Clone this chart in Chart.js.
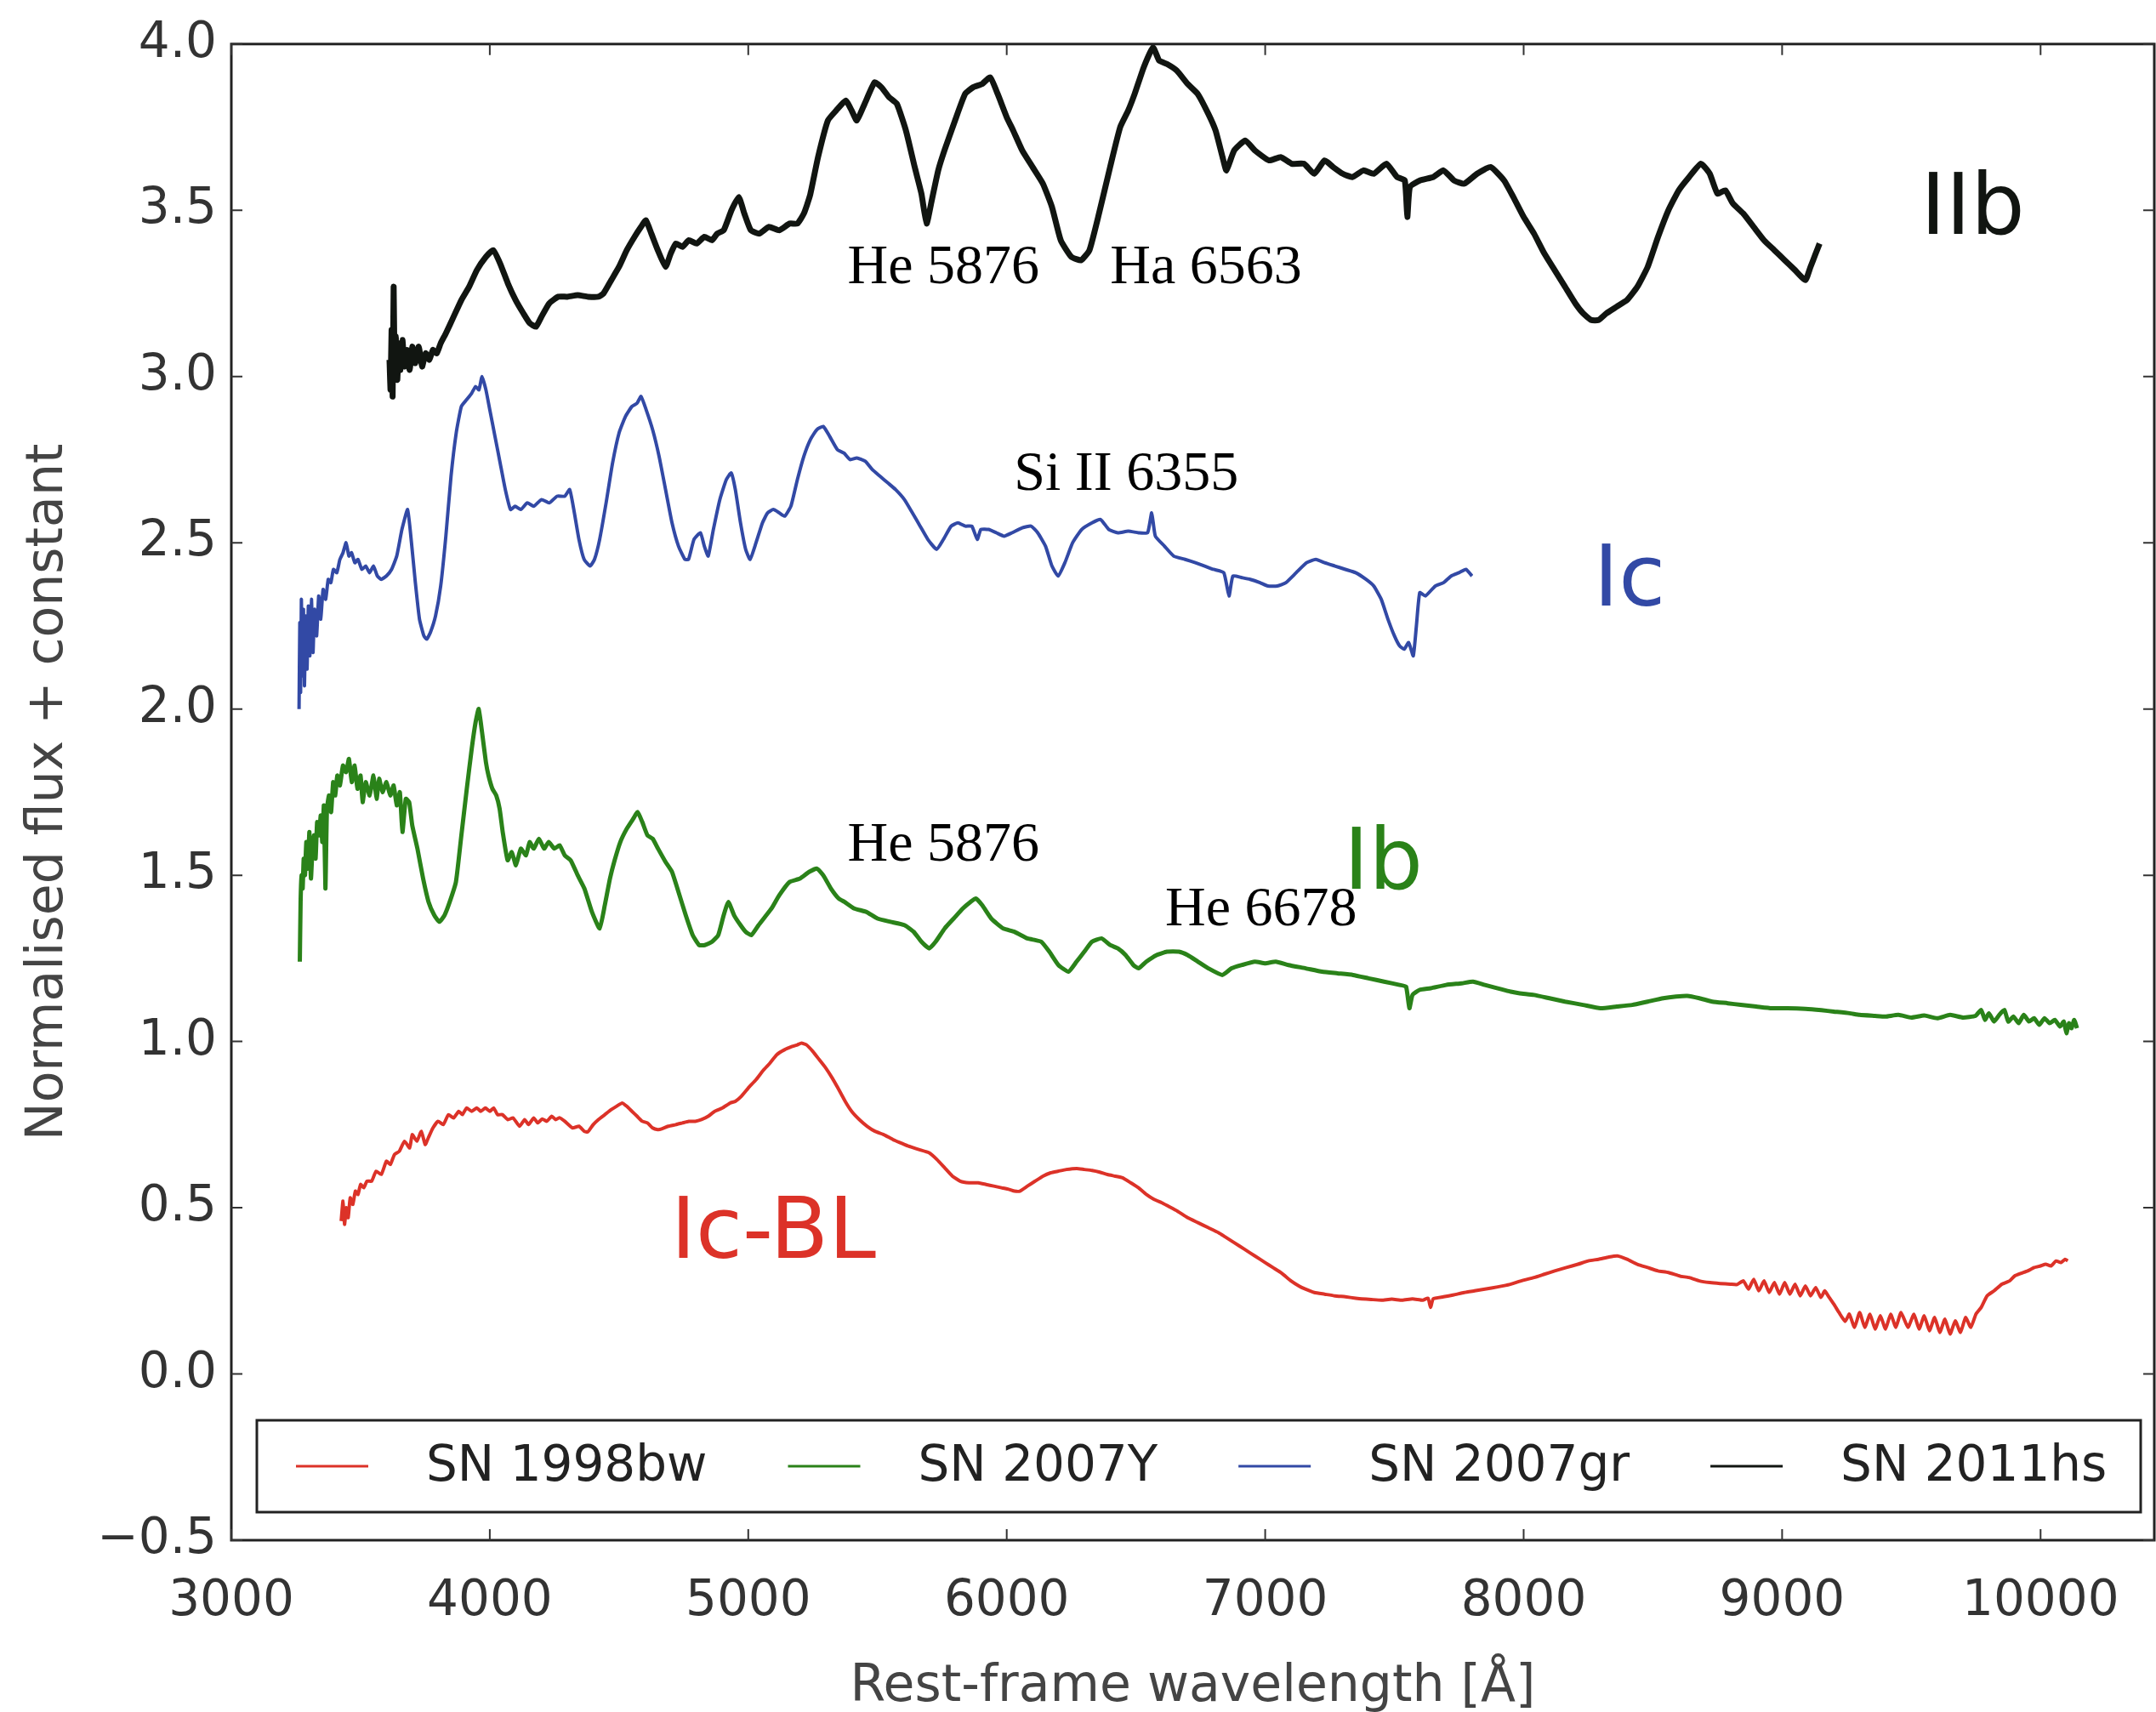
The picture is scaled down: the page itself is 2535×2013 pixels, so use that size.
<!DOCTYPE html>
<html>
<head>
<meta charset="utf-8">
<script src="https://cdn.jsdelivr.net/npm/chart.js@4.4.1/dist/chart.umd.min.js"></script>
<style>
  html, body { margin: 0; padding: 0; background: #fff; }
  #wrap { width: 2535px; height: 2013px; position: relative; }
</style>
</head>
<body>
<div id="wrap"><canvas id="myChart"></canvas></div>
<script>
// SN 1998bw (Ic-BL)
const wl1998bw = [3425,3432,3438,3445,3452,3460,3470,3480,3490,3500,3512,3525,3543,3560,3580,3600,3615,3631,3650,3670,3690,3700,3718,3735,3750,3762,3780,3800,3820,3840,3860,3880,3894,3910,3930,3950,3965,3983,4000,4015,4030,4049,4070,4090,4115,4135,4150,4170,4185,4203,4220,4240,4255,4269,4290,4320,4345,4365,4379,4400,4420,4445,4470,4490,4512,4530,4550,4570,4590,4610,4630,4650,4665,4690,4720,4745,4770,4795,4819,4845,4870,4900,4930,4950,4973,5000,5030,5060,5084,5110,5140,5170,5190,5206,5225,5250,5275,5300,5325,5347,5375,5400,5430,5460,5490,5524,5560,5590,5620,5660,5700,5730,5760,5790,5820,5854,5890,5920,5950,5980,6010,6030,6051,6080,6110,6140,6170,6200,6230,6271,6300,6330,6360,6390,6420,6448,6480,6510,6540,6570,6600,6624,6660,6700,6740,6780,6820,6844,6880,6920,6960,7000,7030,7064,7100,7130,7153,7190,7230,7270,7310,7350,7373,7410,7450,7490,7530,7570,7610,7630,7640,7650,7690,7730,7770,7810,7850,7900,7945,7990,8040,8080,8120,8165,8210,8250,8290,8330,8363,8400,8440,8480,8520,8560,8606,8640,8680,8720,8760,8800,8826,8850,8870,8890,8910,8930,8950,8970,8990,9010,9030,9050,9070,9090,9110,9130,9150,9165,9178,9200,9220,9244,9260,9280,9300,9320,9340,9360,9380,9400,9420,9440,9460,9487,9510,9530,9550,9570,9590,9610,9630,9650,9670,9690,9710,9730,9750,9770,9793,9820,9850,9880,9900,9925,9950,9975,10000,10020,10040,10060,10079,10095,10105];
const fl1998bw = [0.46,0.52,0.45,0.50,0.47,0.53,0.51,0.55,0.54,0.57,0.56,0.58,0.58,0.61,0.60,0.64,0.63,0.66,0.67,0.70,0.68,0.72,0.70,0.73,0.69,0.71,0.74,0.76,0.75,0.78,0.77,0.79,0.78,0.80,0.79,0.80,0.79,0.80,0.79,0.80,0.78,0.78,0.765,0.77,0.745,0.765,0.75,0.77,0.755,0.767,0.76,0.775,0.765,0.771,0.76,0.74,0.745,0.73,0.728,0.75,0.765,0.78,0.795,0.805,0.815,0.805,0.79,0.775,0.76,0.755,0.74,0.735,0.737,0.745,0.75,0.755,0.76,0.76,0.765,0.775,0.79,0.80,0.815,0.82,0.835,0.86,0.885,0.915,0.935,0.96,0.975,0.985,0.99,0.995,0.99,0.97,0.945,0.92,0.89,0.86,0.82,0.79,0.765,0.745,0.73,0.72,0.705,0.695,0.685,0.675,0.665,0.645,0.62,0.595,0.58,0.575,0.575,0.57,0.565,0.56,0.555,0.55,0.55,0.565,0.58,0.595,0.605,0.61,0.615,0.618,0.615,0.612,0.607,0.60,0.595,0.59,0.575,0.56,0.54,0.525,0.515,0.505,0.49,0.47,0.455,0.44,0.425,0.413,0.395,0.375,0.355,0.335,0.32,0.303,0.28,0.265,0.256,0.245,0.24,0.235,0.232,0.228,0.226,0.224,0.222,0.225,0.222,0.226,0.222,0.228,0.20,0.226,0.232,0.238,0.245,0.25,0.255,0.262,0.269,0.28,0.29,0.30,0.31,0.32,0.33,0.34,0.345,0.352,0.355,0.345,0.33,0.32,0.31,0.305,0.294,0.29,0.28,0.275,0.272,0.27,0.269,0.28,0.255,0.285,0.25,0.28,0.245,0.275,0.24,0.275,0.24,0.27,0.235,0.265,0.235,0.26,0.23,0.25,0.235,0.21,0.185,0.158,0.18,0.14,0.185,0.14,0.18,0.135,0.175,0.135,0.18,0.14,0.185,0.14,0.18,0.135,0.175,0.13,0.17,0.125,0.165,0.12,0.16,0.125,0.17,0.14,0.18,0.20,0.235,0.25,0.27,0.28,0.295,0.303,0.31,0.32,0.325,0.33,0.325,0.34,0.335,0.345,0.34];

// SN 2007Y (Ib)
const wl2007Y = [3265,3268,3272,3276,3280,3285,3290,3296,3302,3308,3314,3320,3326,3332,3339,3346,3352,3358,3364,3370,3378,3386,3394,3402,3410,3420,3432,3444,3455,3466,3477,3488,3500,3508,3520,3535,3550,3562,3572,3585,3600,3615,3628,3640,3652,3662,3675,3688,3700,3720,3742,3763,3785,3805,3825,3845,3869,3890,3911,3930,3945,3957,3970,3985,3995,4010,4025,4038,4050,4069,4085,4101,4120,4140,4154,4170,4190,4210,4228,4250,4270,4290,4313,4340,4366,4395,4425,4445,4465,4483,4505,4530,4555,4572,4590,4610,4630,4651,4680,4705,4730,4758,4785,4810,4832,4860,4884,4905,4923,4945,4970,4990,5012,5040,5065,5090,5120,5160,5200,5235,5266,5290,5320,5350,5372,5410,5456,5500,5550,5604,5640,5670,5700,5725,5760,5795,5830,5860,5880,5905,5940,5986,6030,6080,6110,6134,6165,6200,6239,6270,6300,6330,6367,6400,6430,6460,6490,6510,6540,6580,6620,6666,6700,6740,6780,6834,6870,6910,6960,7000,7041,7090,7157,7220,7280,7340,7400,7460,7520,7545,7558,7570,7597,7640,7700,7760,7804,7850,7900,7950,7985,8040,8100,8160,8230,8297,8360,8420,8480,8540,8590,8633,8680,8730,8790,8840,8900,8960,9020,9090,9152,9200,9260,9300,9359,9400,9450,9500,9550,9600,9650,9700,9748,9770,9785,9800,9820,9840,9860,9875,9895,9915,9935,9955,9975,9995,10015,10035,10055,10075,10090,10100,10110,10120,10130,10141];
const fl2007Y = [1.24,1.42,1.50,1.46,1.55,1.50,1.60,1.52,1.63,1.49,1.58,1.62,1.55,1.66,1.62,1.68,1.60,1.71,1.46,1.70,1.74,1.69,1.78,1.74,1.80,1.77,1.83,1.81,1.85,1.78,1.83,1.76,1.80,1.72,1.78,1.74,1.80,1.73,1.79,1.75,1.78,1.74,1.77,1.71,1.75,1.63,1.73,1.72,1.65,1.58,1.49,1.42,1.38,1.36,1.38,1.42,1.48,1.62,1.76,1.88,1.96,2.00,1.93,1.84,1.80,1.76,1.74,1.70,1.63,1.545,1.57,1.53,1.58,1.56,1.60,1.58,1.61,1.58,1.60,1.58,1.59,1.56,1.545,1.50,1.46,1.39,1.34,1.41,1.49,1.545,1.60,1.64,1.67,1.69,1.66,1.62,1.61,1.58,1.54,1.51,1.45,1.38,1.32,1.29,1.29,1.30,1.32,1.38,1.42,1.38,1.35,1.33,1.32,1.35,1.375,1.40,1.44,1.48,1.49,1.51,1.52,1.50,1.46,1.43,1.42,1.40,1.39,1.37,1.36,1.35,1.33,1.30,1.28,1.30,1.34,1.37,1.40,1.42,1.43,1.41,1.37,1.34,1.33,1.31,1.305,1.30,1.27,1.23,1.21,1.24,1.27,1.30,1.31,1.29,1.28,1.26,1.23,1.22,1.24,1.26,1.27,1.27,1.26,1.24,1.22,1.20,1.22,1.23,1.24,1.235,1.24,1.23,1.22,1.21,1.205,1.20,1.19,1.18,1.17,1.165,1.10,1.14,1.155,1.16,1.17,1.175,1.18,1.17,1.16,1.15,1.145,1.14,1.13,1.12,1.11,1.10,1.105,1.11,1.12,1.13,1.135,1.137,1.13,1.12,1.115,1.11,1.105,1.10,1.10,1.098,1.094,1.09,1.085,1.08,1.077,1.075,1.08,1.072,1.078,1.070,1.08,1.072,1.077,1.095,1.065,1.085,1.06,1.08,1.095,1.06,1.075,1.055,1.08,1.06,1.07,1.05,1.07,1.055,1.065,1.045,1.06,1.025,1.055,1.04,1.065,1.04];

// SN 2007gr (Ic)
const wl2007gr = [3262,3265,3268,3271,3275,3279,3283,3288,3293,3298,3304,3310,3316,3322,3330,3338,3346,3355,3365,3375,3385,3395,3408,3420,3432,3444,3455,3465,3478,3490,3505,3520,3535,3550,3565,3580,3600,3620,3640,3660,3682,3697,3712,3728,3745,3756,3770,3790,3810,3830,3850,3870,3890,3910,3930,3945,3958,3970,3985,4000,4020,4040,4060,4080,4098,4120,4145,4170,4200,4230,4260,4290,4309,4325,4345,4365,4388,4405,4425,4450,4475,4500,4525,4550,4570,4585,4605,4630,4655,4680,4705,4730,4755,4769,4790,4815,4830,4845,4865,4890,4915,4934,4950,4970,4990,5007,5030,5055,5075,5097,5120,5141,5165,5190,5215,5240,5265,5290,5315,5345,5370,5394,5420,5453,5480,5510,5540,5570,5604,5635,5665,5695,5729,5755,5785,5811,5840,5865,5886,5900,5930,5960,5990,6020,6060,6094,6120,6150,6175,6199,6225,6255,6290,6330,6363,6395,6430,6470,6510,6545,6561,6575,6610,6646,6690,6730,6766,6800,6840,6860,6875,6910,6942,6980,7010,7047,7080,7120,7160,7196,7230,7270,7310,7350,7390,7420,7449,7475,7500,7520,7538,7555,7573,7585,7598,7620,7658,7690,7720,7750,7777,7800];
const fl2007gr = [2.00,2.26,2.05,2.33,2.10,2.30,2.07,2.28,2.12,2.31,2.16,2.33,2.17,2.30,2.22,2.34,2.27,2.36,2.33,2.39,2.38,2.42,2.41,2.45,2.47,2.50,2.46,2.47,2.44,2.45,2.42,2.43,2.41,2.43,2.40,2.39,2.40,2.42,2.46,2.54,2.60,2.50,2.38,2.27,2.22,2.21,2.23,2.28,2.37,2.52,2.70,2.83,2.91,2.93,2.95,2.97,2.96,3.00,2.96,2.90,2.82,2.74,2.66,2.60,2.61,2.60,2.62,2.61,2.63,2.62,2.64,2.64,2.66,2.60,2.51,2.45,2.43,2.45,2.51,2.62,2.74,2.83,2.88,2.91,2.92,2.94,2.90,2.84,2.76,2.66,2.56,2.49,2.45,2.45,2.51,2.53,2.49,2.46,2.54,2.63,2.69,2.71,2.66,2.56,2.48,2.45,2.50,2.56,2.59,2.60,2.59,2.58,2.61,2.69,2.76,2.81,2.84,2.85,2.82,2.78,2.77,2.75,2.755,2.745,2.72,2.70,2.68,2.66,2.63,2.59,2.55,2.51,2.48,2.51,2.55,2.56,2.55,2.55,2.51,2.54,2.54,2.53,2.52,2.53,2.545,2.55,2.53,2.49,2.43,2.40,2.44,2.50,2.54,2.56,2.57,2.54,2.53,2.535,2.53,2.53,2.59,2.52,2.49,2.46,2.45,2.44,2.43,2.42,2.41,2.34,2.40,2.395,2.39,2.38,2.37,2.37,2.38,2.41,2.44,2.45,2.44,2.43,2.42,2.41,2.39,2.37,2.33,2.27,2.22,2.19,2.18,2.20,2.16,2.25,2.35,2.34,2.37,2.38,2.40,2.41,2.42,2.40];

// SN 2011hs (IIb)
const wl2011hs = [3612,3616,3620,3624,3628,3632,3637,3642,3648,3655,3662,3670,3680,3690,3700,3712,3725,3738,3752,3766,3780,3795,3810,3830,3860,3890,3920,3950,3985,4013,4040,4070,4100,4130,4155,4179,4200,4230,4265,4300,4340,4380,4420,4440,4470,4500,4530,4560,4585,4604,4625,4650,4680,4700,4720,4745,4770,4800,4830,4860,4880,4905,4935,4963,4985,5010,5043,5080,5120,5160,5190,5215,5239,5270,5308,5340,5377,5400,5420,5450,5489,5515,5545,5575,5610,5644,5670,5690,5710,5735,5759,5800,5839,5870,5905,5936,5965,6000,6025,6060,6100,6140,6175,6209,6250,6288,6320,6357,6400,6439,6470,6495,6530,6566,6590,6620,6658,6700,6739,6780,6808,6835,6850,6880,6923,6960,7015,7060,7103,7150,7190,7230,7263,7300,7337,7380,7420,7469,7510,7540,7550,7560,7600,7650,7690,7730,7770,7820,7872,7924,7960,8000,8040,8080,8120,8160,8200,8230,8261,8290,8320,8360,8400,8440,8480,8520,8560,8600,8640,8686,8720,8750,8780,8810,8850,8890,8930,8970,9010,9050,9090,9110,9130,9145];
const fl2011hs = [3.05,2.96,3.14,2.94,3.27,3.00,3.12,2.99,3.10,3.02,3.11,3.03,3.08,3.02,3.09,3.04,3.09,3.03,3.07,3.05,3.08,3.07,3.10,3.13,3.18,3.23,3.27,3.32,3.36,3.38,3.34,3.28,3.23,3.19,3.16,3.15,3.18,3.22,3.24,3.24,3.245,3.24,3.24,3.25,3.29,3.33,3.38,3.42,3.45,3.47,3.43,3.38,3.33,3.37,3.40,3.39,3.41,3.40,3.42,3.41,3.43,3.44,3.50,3.54,3.49,3.44,3.43,3.45,3.44,3.46,3.46,3.49,3.545,3.66,3.77,3.80,3.83,3.80,3.77,3.82,3.885,3.87,3.84,3.82,3.74,3.63,3.55,3.46,3.53,3.62,3.68,3.77,3.85,3.87,3.88,3.90,3.85,3.78,3.74,3.68,3.63,3.58,3.51,3.41,3.36,3.35,3.38,3.49,3.63,3.75,3.80,3.85,3.93,3.99,3.95,3.94,3.92,3.88,3.85,3.79,3.74,3.66,3.62,3.68,3.71,3.68,3.65,3.66,3.64,3.64,3.61,3.65,3.63,3.61,3.60,3.62,3.61,3.64,3.60,3.59,3.48,3.57,3.59,3.60,3.62,3.59,3.58,3.61,3.63,3.59,3.54,3.48,3.43,3.37,3.32,3.27,3.22,3.19,3.17,3.17,3.19,3.21,3.23,3.27,3.33,3.42,3.50,3.56,3.60,3.64,3.61,3.55,3.56,3.52,3.49,3.45,3.41,3.38,3.35,3.32,3.29,3.33,3.37,3.40];

const seriesLabels = ["SN 1998bw", "SN 2007Y", "SN 2007gr", "SN 2011hs"];
const seriesColors = ["#dc3228", "#2a8219", "#3249a5", "#111511"];
const seriesWidths = [4, 5, 4, 7];
const seriesWl = [wl1998bw, wl2007Y, wl2007gr, wl2011hs];
const seriesFl = [fl1998bw, fl2007Y, fl2007gr, fl2011hs];

const xTicks = [3000, 4000, 5000, 6000, 7000, 8000, 9000, 10000];
const yTicks = [-0.5, 0, 0.5, 1, 1.5, 2, 2.5, 3, 3.5, 4];

// line identifications: text, wavelength (left edge), flux (baseline)
const lineNames = ["He 5876", "Ha 6563", "Si II 6355", "He 5876", "He 6678"];
const lineWl = [5384, 6400, 6028, 5384, 6613];
const lineFl = [3.28, 3.28, 2.66, 1.545, 1.35];

// spectral type labels
const typeNames = ["IIb", "Ic", "Ib", "Ic-BL"];
const typeWl = [9536, 8271, 7304, 4700];
const typeFl = [3.43, 2.31, 1.46, 0.35];
const typeColors = ["#111511", "#3249a5", "#2a8219", "#dc3228"];

const FONT = "'DejaVu Sans', sans-serif";
Chart.defaults.font.family = FONT;

let datasets = [];
for (let i = 0; i < seriesLabels.length; i++) {
  datasets.push({
    label: seriesLabels[i],
    data: seriesWl[i].map((w, j) => ({ x: w, y: seriesFl[i][j] })),
    borderColor: seriesColors[i],
    backgroundColor: seriesColors[i],
    borderWidth: seriesWidths[i],
    pointRadius: 0,
    tension: 0.15,
    borderJoinStyle: 'round',
    fill: false,
  });
}

const decor = {
  id: 'decor',
  afterDraw(chart) {
    const c = chart.ctx;
    const a = chart.chartArea;
    const sx = chart.scales.x, sy = chart.scales.y;
    c.save();

    // frame
    c.strokeStyle = '#222';
    c.lineWidth = 3;
    c.strokeRect(a.left, a.top, a.right - a.left, a.bottom - a.top);

    // inward ticks on all sides
    c.lineWidth = 2;
    c.strokeStyle = '#333';
    const tl = 13;
    c.beginPath();
    for (const v of xTicks) {
      const px = sx.getPixelForValue(v);
      c.moveTo(px, a.bottom); c.lineTo(px, a.bottom - tl);
      c.moveTo(px, a.top); c.lineTo(px, a.top + tl);
    }
    for (const v of yTicks) {
      const py = sy.getPixelForValue(v);
      c.moveTo(a.left, py); c.lineTo(a.left + tl, py);
      c.moveTo(a.right, py); c.lineTo(a.right - tl, py);
    }
    c.stroke();

    // axis titles
    c.fillStyle = '#444';
    c.font = '60px ' + FONT;
    c.textAlign = 'center';
    c.textBaseline = 'alphabetic';
    c.fillText('Rest-frame wavelength [Å]', (a.left + a.right) / 2, a.bottom + 189);
    c.textBaseline = 'middle';
    c.save();
    c.translate(57, (a.top + a.bottom) / 2);
    c.rotate(-Math.PI / 2);
    c.fillText('Normalised flux + constant', 0, 0);
    c.restore();

    // line identifications
    c.fillStyle = '#000';
    c.font = "66px 'Liberation Serif', serif";
    c.textAlign = 'left';
    c.textBaseline = 'alphabetic';
    for (let i = 0; i < lineNames.length; i++) {
      c.fillText(lineNames[i], sx.getPixelForValue(lineWl[i]), sy.getPixelForValue(lineFl[i]));
    }

    // spectral types
    c.font = '100px ' + FONT;
    for (let i = 0; i < typeNames.length; i++) {
      c.fillStyle = typeColors[i];
      c.fillText(typeNames[i], sx.getPixelForValue(typeWl[i]), sy.getPixelForValue(typeFl[i]));
    }

    // legend box inside the axes
    const bx0 = a.left + 30, bx1 = a.right - 16;
    const by1 = a.bottom - 33, by0 = by1 - 108;
    c.fillStyle = '#fff';
    c.fillRect(bx0, by0, bx1 - bx0, by1 - by0);
    c.strokeStyle = '#222';
    c.lineWidth = 3;
    c.strokeRect(bx0, by0, bx1 - bx0, by1 - by0);
    c.font = '58px ' + FONT;
    c.textBaseline = 'middle';
    const my = (by0 + by1) / 2;
    let x = bx0 + 46;
    for (let i = 0; i < seriesLabels.length; i++) {
      c.strokeStyle = seriesColors[i];
      c.lineWidth = 3;
      c.beginPath();
      c.moveTo(x, my); c.lineTo(x + 85, my);
      c.stroke();
      c.fillStyle = '#222';
      c.fillText(seriesLabels[i], x + 153, my + 2);
      x += 153 + c.measureText(seriesLabels[i]).width + 95;
    }
    c.restore();
  }
};

const ctx = document.getElementById('myChart').getContext('2d');
const chart = new Chart(ctx, {
  type: 'line',
  data: { datasets: datasets },
  plugins: [decor],
  options: {
    responsive: true,
    maintainAspectRatio: false,
    animation: false,
    layout: { padding: { left: 0, top: 48, right: 2, bottom: 0 } },
    plugins: { legend: { display: false }, tooltip: { enabled: false } },
    scales: {
      x: {
        type: 'linear',
        min: 3000,
        max: 10440,
        afterFit: s => { s.height = 202; },
        afterBuildTicks: s => { s.ticks = xTicks.map(v => ({ value: v })); },
        grid: { display: true, drawOnChartArea: false, drawTicks: false },
        border: { display: false },
        ticks: {
          color: '#333', font: { size: 58 }, padding: 38, maxRotation: 0, autoSkip: false,
          callback: v => String(v),
        },
      },
      y: {
        type: 'linear',
        min: -0.5,
        max: 4.0,
        afterFit: s => { s.width = 272; },
        afterBuildTicks: s => { s.ticks = yTicks.map(v => ({ value: v })); },
        grid: { display: true, drawOnChartArea: false, drawTicks: false },
        border: { display: false },
        ticks: {
          color: '#333', font: { size: 58 }, padding: 17,
          callback: v => v.toFixed(1).replace('-', '\u2212'),
        },
      },
    },
  },
});
</script>
</body>
</html>
